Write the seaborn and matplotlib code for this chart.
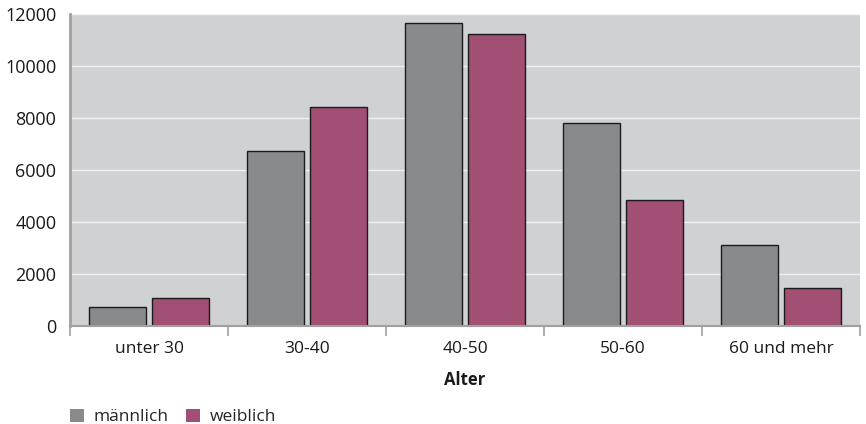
import seaborn as sns
import matplotlib.pyplot as plt
import pandas as pd

# Data
categories = ['unter 30', '30-40', '40-50', '50-60', '60 und mehr']
maennlich = [700, 6720, 11650, 7820, 3100]
weiblich = [1080, 8400, 11220, 4830, 1460]
series_names = ['männlich', 'weiblich']

df = pd.DataFrame({
    'Alter': categories * 2,
    'Anzahl': maennlich + weiblich,
    'Geschlecht': [series_names[0]] * len(categories) + [series_names[1]] * len(categories),
})

sns.set_theme(style='white')
plt.rcParams['font.family'] = ['Open Sans', 'DejaVu Sans']

fig, ax = plt.subplots(figsize=(8.66, 4.24), dpi=100)
fig.subplots_adjust(left=0.081, right=0.993, top=0.967, bottom=0.232)

sns.barplot(data=df, x='Alter', y='Anzahl', hue='Geschlecht',
            palette=['#898a8c', '#a24f74'], saturation=1, width=0.8, gap=0.1,
            edgecolor='#1a1a1a', linewidth=1.0, ax=ax)

ax.set_facecolor('#d0d1d3')
ax.set_ylim(0, 12000)
ax.set_yticks(range(0, 12001, 2000))
ax.yaxis.grid(True, color='#f2f2f2', linewidth=1.0)
ax.set_axisbelow(True)
ax.set_xlim(-0.5, len(categories) - 0.5)

for s in ['top', 'right']:
    ax.spines[s].set_visible(False)
ax.spines['left'].set_color('#a0a0a0')
ax.spines['left'].set_linewidth(2)
ax.spines['bottom'].set_color('#a0a0a0')
ax.spines['bottom'].set_linewidth(1.5)

ax.tick_params(axis='y', length=0, labelsize=13, pad=10, colors='#1a1a1a')
ax.tick_params(axis='x', which='major', length=0, labelsize=12.5, pad=11, colors='#1a1a1a')
ax.set_xticks([i + 0.5 for i in range(-1, len(categories))], minor=True)
ax.tick_params(axis='x', which='minor', bottom=True, length=7, width=1.2, color='#a0a0a0')

ax.set_xlabel('Alter', fontsize=12, fontweight='bold', labelpad=10, color='#1a1a1a')
ax.set_ylabel('')

ax.get_legend().remove()
handles, labels = ax.get_legend_handles_labels()
fig.legend(handles, labels, loc='lower left', bbox_to_anchor=(0.063, -0.04), ncol=2,
           frameon=False, fontsize=12.5, handlelength=0.8, handleheight=0.8,
           handletextpad=0.55, columnspacing=1.0)
for h in fig.legends[0].legend_handles:
    h.set_edgecolor('none')

fig.savefig('out.png', dpi=100)
